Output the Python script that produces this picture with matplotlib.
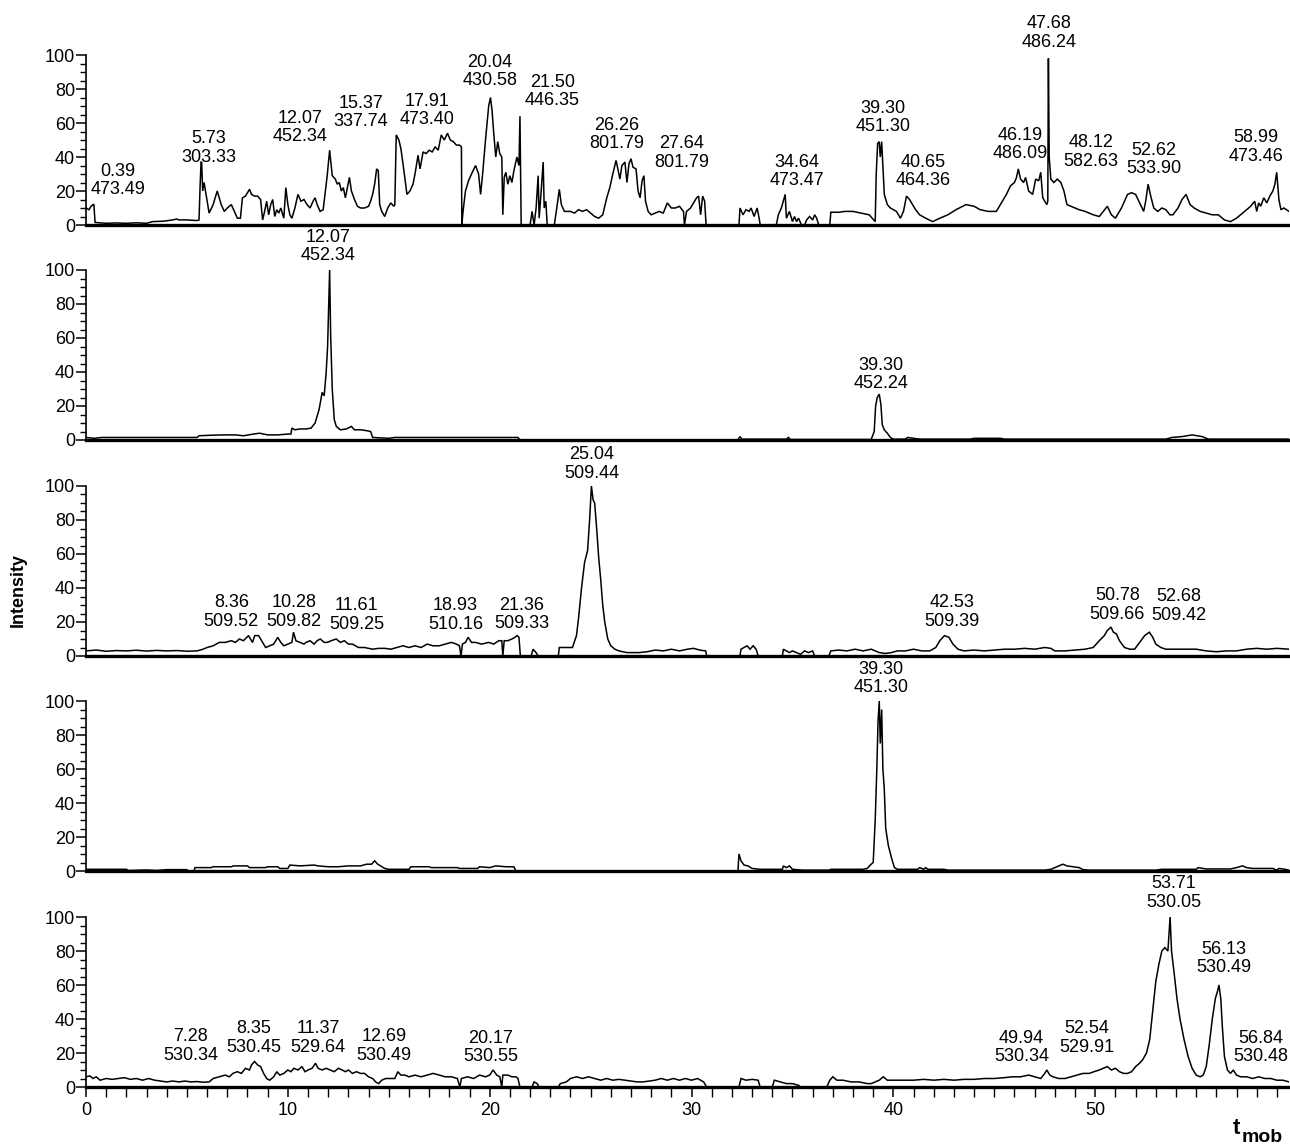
"""Stacked mobilograms: total ion trace plus four extracted-ion traces."""

import matplotlib
matplotlib.use("Agg")
import matplotlib.pyplot as plt
from matplotlib.ticker import MultipleLocator

plt.rcParams["font.family"] = ["Liberation Sans", "DejaVu Sans"]

# ---- panel 1: total trace -------------------------------------------------
t1 = [0.0, 0.15, 0.25, 0.35, 0.39, 0.45, 1.0, 1.5, 2.0, 2.5, 3.0, 3.3, 3.8, 4.2, 4.5, 4.6, 5.0, 5.5,
      5.6, 5.65, 5.7, 5.73, 5.78, 5.85, 6.0, 6.1, 6.3, 6.5, 6.7, 6.85, 7.0, 7.2, 7.35, 7.5, 7.65,
      7.75, 7.9, 8.1, 8.2, 8.35, 8.5, 8.65, 8.75, 8.85, 8.95, 9.05, 9.15, 9.25, 9.35, 9.45, 9.55,
      9.65, 9.8, 9.9, 10.0, 10.1, 10.2, 10.35, 10.5, 10.65, 10.8, 10.95, 11.1, 11.25, 11.35, 11.45,
      11.6, 11.75, 11.85, 11.95, 12.07, 12.15, 12.2, 12.35, 12.45, 12.55, 12.65, 12.75, 12.85,
      12.95, 13.05, 13.15, 13.3, 13.45, 13.6, 13.8, 14.0, 14.1, 14.2, 14.3, 14.4, 14.48, 14.55,
      14.65, 14.8, 14.95, 15.1, 15.25, 15.3, 15.37, 15.5, 15.6, 15.75, 15.9, 16.05, 16.2, 16.3,
      16.45, 16.55, 16.7, 16.85, 17.0, 17.15, 17.3, 17.45, 17.6, 17.75, 17.91, 18.05, 18.2, 18.35,
      18.5, 18.6, 18.62, 18.68, 18.8, 18.95, 19.1, 19.3, 19.45, 19.55, 19.65, 19.8, 19.95, 20.04,
      20.12, 20.2, 20.3, 20.4, 20.5, 20.6, 20.65, 20.72, 20.8, 20.9, 21.0, 21.1, 21.2, 21.35,
      21.45, 21.5, 21.56, 22.0, 22.1, 22.2, 22.3, 22.4, 22.45, 22.55, 22.65, 22.7, 22.78, 22.85,
      23.2, 23.3, 23.45, 23.55, 23.7, 24.0, 24.2, 24.4, 24.6, 24.8, 25.0, 25.2, 25.4, 25.6, 25.8,
      25.95, 26.1, 26.26, 26.35, 26.45, 26.55, 26.7, 26.8, 26.9, 27.0, 27.1, 27.25, 27.35, 27.45,
      27.55, 27.64, 27.72, 27.85, 28.0, 28.2, 28.4, 28.6, 28.8, 29.0, 29.2, 29.4, 29.6, 29.65,
      29.75, 29.95, 30.1, 30.25, 30.35, 30.45, 30.55, 30.65, 30.72, 32.35, 32.4, 32.55, 32.7,
      32.85, 32.95, 33.1, 33.25, 33.35, 33.4, 34.2, 34.3, 34.45, 34.64, 34.7, 34.85, 35.0, 35.1,
      35.2, 35.3, 35.45, 35.6, 35.7, 35.85, 36.0, 36.1, 36.2, 36.3, 36.85, 36.9, 37.3, 37.6, 38.0,
      38.4, 38.8, 39.1, 39.15, 39.22, 39.3, 39.35, 39.42, 39.5, 39.55, 39.7, 39.85, 40.0, 40.15,
      40.35, 40.5, 40.65, 40.8, 40.95, 41.1, 41.3, 41.6, 41.95, 42.3, 42.7, 43.1, 43.6, 44.0,
      44.3, 44.7, 45.1, 45.4, 45.6, 45.8, 46.0, 46.1, 46.19, 46.3, 46.45, 46.55, 46.7, 46.9,
      47.05, 47.2, 47.3, 47.4, 47.5, 47.6, 47.65, 47.68, 47.72, 47.8, 47.95, 48.12, 48.3, 48.45,
      48.6, 48.8, 49.2, 49.5, 49.9, 50.2, 50.4, 50.6, 50.8, 51.0, 51.3, 51.6, 51.8, 52.0, 52.2,
      52.4, 52.5, 52.62, 52.75, 52.9, 53.1, 53.3, 53.5, 53.7, 53.85, 54.1, 54.3, 54.5, 54.7, 54.9,
      55.2, 55.5, 55.8, 56.1, 56.4, 56.7, 57.0, 57.3, 57.5, 57.7, 57.9, 58.0, 58.1, 58.2, 58.35,
      58.5, 58.65, 58.8, 58.9, 58.99, 59.1, 59.2, 59.35, 59.6]
i1 = [10, 9, 11, 12, 12, 1.5, 1, 1.2, 1, 1.3, 1, 2, 2.2, 2.8, 3.5, 3, 3, 2.6,
      3, 22, 37, 37, 20, 25, 14, 7, 12, 20, 12, 8, 10, 12, 8, 4, 4,
      16, 17, 21, 18, 17, 17, 15, 3, 8, 14, 6, 12, 15, 5, 9, 7,
      10, 4, 22, 12, 6, 4, 10, 18, 14, 15, 12, 10, 14, 16, 12,
      8, 9, 19, 29, 44, 35, 29, 27, 24, 25, 20, 22, 16,
      22, 28, 20, 15, 11, 10, 10, 11, 14, 18, 24, 33, 32, 12,
      8, 5, 10, 13, 11, 12, 53, 50, 45, 32, 18, 20, 24, 30,
      41, 33, 43, 42, 44, 43, 46, 44, 53, 50, 54, 50, 49, 47,
      47, 46, 0, 8, 20, 26, 30, 35, 30, 18, 30, 51, 70, 75,
      67, 54, 40, 49, 42, 40, 6, 28, 31, 24, 29, 25, 32, 40,
      35, 64, 0, 0, 8, 0, 10, 29, 4, 20, 37, 10, 14, 0,
      0, 8, 21, 12, 8, 8, 7, 9, 8, 9, 7, 5, 4, 6, 16,
      22, 30, 38, 33, 27, 35, 37, 25, 36, 39, 34, 33, 20, 16,
      26, 29, 14, 8, 6, 7, 8, 7, 13, 10, 10, 11, 8, 0,
      8, 10, 13, 16, 17, 6, 17, 14, 0, 0, 10, 6, 9,
      8, 10, 5, 10, 4, 0, 0, 6, 10, 18, 4, 8, 2, 5,
      2, 4, 0, 0, 3, 5, 3, 6, 4, 0, 0, 7.5, 7.5, 8, 8,
      7, 6, 2, 30, 48, 49, 40, 49, 30, 18, 12, 10, 9, 8,
      4, 8, 17, 15, 12, 9, 6, 4, 2, 4, 6, 9, 12, 11,
      9, 8, 8, 14, 18, 23, 25, 28, 33, 27, 25, 28, 20, 18,
      27, 26, 31, 16, 14, 12, 14, 98, 40, 27, 25, 27, 25, 20,
      12, 11, 9, 8, 6, 5, 8, 11, 6, 4, 10, 18, 19, 18, 13,
      8, 14, 24, 17, 10, 8, 10, 9, 6, 6, 10, 15, 18, 12, 10,
      8, 7, 6, 6, 3, 2, 4, 7, 9, 11, 14, 8, 13, 11, 16,
      13, 17, 20, 24, 31, 15, 9, 10, 8]
peaks1_t = [0.39, 5.73, 12.07, 15.37, 17.91, 20.04, 21.50, 26.26, 27.64, 34.64, 39.30, 40.65,
            46.19, 47.68, 48.12, 52.62, 58.99]
peaks1_mz = [473.49, 303.33, 452.34, 337.74, 473.40, 430.58, 446.35, 801.79, 801.79, 473.47,
             451.30, 464.36, 486.09, 486.24, 582.63, 533.90, 473.46]

# ---- panel 2: m/z 452 -----------------------------------------------------
t2 = [0.0, 0.4, 0.8, 1.5, 3.0, 4.5, 5.5, 5.6, 6.2, 6.8, 7.4, 7.8, 8.3, 8.6, 9.0, 9.5, 10.0,
      10.15, 10.2, 10.35, 10.6, 10.9, 11.15, 11.35, 11.55, 11.7, 11.8, 11.9, 11.97, 12.07, 12.12,
      12.2, 12.3, 12.4, 12.6, 12.9, 13.15, 13.3, 13.6, 13.9, 14.1, 14.2, 15.0, 15.3, 17.0, 18.5,
      19.5, 20.5, 21.4, 21.5, 32.3, 32.4, 32.5, 34.7, 34.8, 34.9, 38.9, 39.05, 39.12, 39.2, 39.3,
      39.38, 39.45, 39.55, 39.7, 39.85, 40.0, 40.6, 40.7, 41.0, 41.3, 43.8, 44.0, 45.3, 45.5,
      53.5, 53.8, 54.3, 54.8, 55.3, 55.6, 59.6]
i2 = [1.5, 1, 1.5, 1.5, 1.5, 1.5, 1.5, 2.5, 2.8, 3, 3, 2.5, 3.5, 4, 3, 3, 3.5,
      3.5, 7, 6, 6.5, 6.5, 7, 10, 18, 28, 26, 40, 55, 100, 62,
      30, 12, 8, 6, 6.5, 8, 6, 6, 5.5, 5, 1.5, 1, 1.5, 1.5, 1.5,
      1.5, 1.5, 1.5, 0, 0, 2, 0.5, 0.5, 1.5, 0.3, 0.3, 5, 20, 25, 27,
      21, 9, 6, 4, 1.5, 0.5, 0.5, 1.5, 1, 0.5, 0.5, 1, 1, 0.5,
      0.5, 1.5, 2, 3, 2, 0.5, 0.5]
peaks2_t = [12.07, 39.30]
peaks2_mz = [452.34, 452.24]

# ---- panel 3: m/z 509 -----------------------------------------------------
t3 = [0.0, 0.5, 1.0, 1.5, 2.0, 2.5, 3.0, 3.5, 4.0, 4.5, 5.0, 5.5, 5.8, 6.0, 6.3, 6.6, 6.9, 7.2,
      7.4, 7.6, 7.8, 8.05, 8.25, 8.36, 8.55, 8.7, 8.9, 9.1, 9.3, 9.5, 9.65, 9.8, 10.0, 10.2,
      10.28, 10.4, 10.6, 10.8, 10.9, 11.1, 11.3, 11.45, 11.61, 11.8, 11.95, 12.15, 12.4, 12.6,
      12.8, 13.0, 13.2, 13.5, 13.8, 14.2, 14.5, 14.8, 15.1, 15.4, 15.7, 16.0, 16.3, 16.6, 16.9,
      17.2, 17.5, 17.8, 18.1, 18.35, 18.5, 18.58, 18.65, 18.8, 18.93, 19.1, 19.3, 19.6, 19.95,
      20.2, 20.45, 20.6, 20.65, 20.72, 20.9, 21.1, 21.25, 21.36, 21.45, 21.52, 22.05, 22.15,
      22.3, 22.4, 23.4, 23.45, 23.8, 24.1, 24.3, 24.4, 24.55, 24.7, 24.85, 24.95, 25.04, 25.12,
      25.2, 25.3, 25.4, 25.5, 25.6, 25.7, 25.85, 26.0, 26.2, 26.4, 26.8, 27.4, 27.8, 28.2, 28.6,
      29.0, 29.4, 29.8, 30.1, 30.4, 30.7, 30.75, 32.4, 32.45, 32.6, 32.75, 32.9, 33.05, 33.2,
      33.3, 34.5, 34.55, 34.7, 34.85, 35.0, 35.2, 35.4, 35.6, 35.8, 36.0, 36.1, 36.8, 36.9, 37.3,
      37.7, 38.1, 38.5, 38.9, 39.3, 39.6, 39.9, 40.2, 40.6, 41.0, 41.4, 41.8, 42.1, 42.3, 42.53,
      42.75, 42.95, 43.2, 43.5, 44.0, 44.5, 45.0, 45.5, 46.0, 46.5, 47.0, 47.5, 47.8, 48.0, 48.5,
      49.0, 49.5, 49.9, 50.2, 50.45, 50.6, 50.78, 50.9, 51.05, 51.2, 51.45, 51.7, 51.95, 52.2,
      52.45, 52.68, 52.85, 53.0, 53.25, 53.5, 54.0, 54.5, 55.0, 55.5, 56.0, 56.5, 57.0, 57.5,
      58.0, 58.5, 59.0, 59.6]
i3 = [3, 3.5, 2.8, 3.2, 3, 3.4, 2.9, 3.3, 3, 3.2, 2.8, 3, 4, 5, 6, 8, 8, 9,
      8, 10, 9, 12, 8, 12, 12, 9, 5, 6, 7, 11, 8, 6, 7, 8,
      14, 9, 8, 7, 8, 9, 7, 9, 10, 8, 8, 9, 10, 8,
      9, 7, 7, 5, 5, 4, 4.5, 4.5, 4, 5, 6, 5, 6, 5, 7,
      6, 6, 7, 8, 7, 6, 0, 7, 8, 11, 8, 8, 7, 8,
      7, 9, 9, 0, 9, 9, 10, 11, 12, 11, 0, 0, 4,
      2, 0, 0, 5, 5, 5, 12, 22, 40, 55, 62, 80, 100, 92,
      90, 75, 58, 45, 30, 20, 10, 6, 4, 3, 2, 2, 2.5, 3.5, 3,
      4, 3, 4, 4.5, 3.5, 3, 0, 0, 4, 5, 6, 4, 6, 4,
      0, 0, 4, 3, 2, 3, 2, 1, 3, 2, 3, 0, 0, 3, 3.5,
      3, 4, 3, 4, 2, 1.5, 2, 3, 3, 4, 3, 3, 5, 9, 12,
      11, 7, 4, 3, 3.5, 3, 3.5, 4, 4, 4.5, 4, 5, 4.5, 3, 3,
      3.5, 4, 5, 9, 12, 15, 17, 14, 13, 9, 5, 4, 4, 8,
      12, 14, 11, 7, 5, 4, 4, 4, 4, 3, 2.5, 3, 3, 4,
      4.5, 4, 4.5, 4]
peaks3_t = [25.04, 8.36, 10.28, 11.61, 18.93, 21.36, 42.53, 50.78, 52.68]
peaks3_mz = [509.44, 509.52, 509.82, 509.25, 510.16, 509.33, 509.39, 509.66, 509.42]

# ---- panel 4: m/z 451 -----------------------------------------------------
t4 = [0.0, 1.0, 2.0, 2.1, 3.0, 3.5, 4.0, 5.0, 5.05, 5.35, 5.4, 6.2, 6.3, 7.2, 7.3, 8.0, 8.1,
      8.9, 9.0, 9.5, 9.6, 10.0, 10.1, 10.6, 11.3, 11.5, 12.0, 12.5, 13.0, 13.6, 13.9, 14.15,
      14.3, 14.45, 14.6, 14.8, 15.0, 16.0, 16.1, 17.0, 17.1, 18.4, 18.5, 19.4, 19.5, 20.0, 20.3,
      20.8, 21.2, 21.3, 32.3, 32.35, 32.45, 32.6, 32.8, 33.0, 33.4, 34.5, 34.55, 34.7, 34.85,
      35.0, 35.5, 36.8, 36.9, 38.5, 38.7, 38.9, 39.0, 39.1, 39.18, 39.24, 39.3, 39.35, 39.42,
      39.48, 39.55, 39.62, 39.75, 39.9, 40.05, 40.2, 41.2, 41.3, 41.5, 41.6, 41.7, 42.5, 42.7,
      47.5, 47.8, 48.0, 48.2, 48.4, 48.6, 48.9, 49.2, 49.4, 49.7, 53.0, 53.3, 55.0, 55.1, 55.5,
      56.7, 57.0, 57.3, 57.5, 57.8, 58.8, 59.0, 59.1, 59.4, 59.6]
i4 = [1, 1, 1, 0.3, 0.6, 0.3, 0.8, 0.8, 0, 0, 2, 2, 2.5, 2.5, 3, 3, 2,
      2, 2.5, 2.5, 1.5, 1.5, 3.5, 3, 3.5, 3, 2.5, 2.5, 3, 3, 4, 4,
      6, 4, 3, 1.5, 1, 1, 2.5, 2.5, 2, 2, 1.5, 1.5, 2.5, 2, 3,
      2.5, 2.5, 0, 0, 10, 6, 3.5, 3, 1.5, 1, 1, 3, 2, 3,
      1, 0.5, 0.5, 1, 1, 1.5, 4, 5, 30, 60, 88, 100, 75, 95,
      60, 48, 25, 15, 8, 2, 1, 1, 2, 1, 2, 1, 1, 0.5,
      0.5, 1, 2, 3, 4, 3, 2.5, 2, 0.8, 0.5, 0.5, 1, 1, 2, 1.2,
      1.2, 2, 3, 2, 1.5, 1.5, 0.5, 1.5, 1, 0.5]
peaks4_t = [39.30]
peaks4_mz = [451.30]

# ---- panel 5: m/z 530 -----------------------------------------------------
t5 = [0.0, 0.2, 0.35, 0.5, 0.7, 1.0, 1.3, 1.6, 1.9, 2.2, 2.5, 2.8, 3.1, 3.4, 3.7, 4.0, 4.3, 4.6,
      4.9, 5.2, 5.5, 5.8, 6.1, 6.3, 6.6, 6.9, 7.1, 7.28, 7.5, 7.7, 7.9, 8.1, 8.2, 8.35, 8.5,
      8.65, 8.8, 8.95, 9.1, 9.3, 9.45, 9.6, 9.8, 10.0, 10.15, 10.3, 10.5, 10.7, 10.85, 11.0,
      11.2, 11.37, 11.5, 11.7, 11.9, 12.1, 12.3, 12.5, 12.69, 12.85, 13.0, 13.2, 13.4, 13.6,
      13.8, 14.0, 14.2, 14.35, 14.5, 14.65, 14.85, 15.1, 15.3, 15.45, 15.6, 15.8, 16.0, 16.3,
      16.6, 16.9, 17.2, 17.5, 17.8, 18.1, 18.4, 18.52, 18.6, 18.9, 19.2, 19.5, 19.8, 20.0,
      20.17, 20.35, 20.5, 20.6, 20.65, 20.9, 21.1, 21.3, 21.4, 21.5, 22.1, 22.2, 22.35, 22.45,
      23.4, 23.5, 23.8, 24.0, 24.3, 24.6, 24.9, 25.2, 25.5, 25.8, 26.1, 26.4, 26.7, 27.0, 27.3,
      27.6, 27.9, 28.2, 28.5, 28.8, 29.1, 29.4, 29.7, 30.0, 30.3, 30.6, 30.75, 32.35, 32.45,
      32.7, 33.0, 33.3, 33.4, 34.0, 34.1, 34.4, 34.7, 35.0, 35.3, 35.4, 36.7, 36.85, 37.0, 37.2,
      37.5, 37.9, 38.3, 38.7, 38.9, 39.1, 39.3, 39.5, 39.7, 40.0, 40.5, 41.0, 41.5, 42.0, 42.5,
      43.0, 43.5, 44.0, 44.5, 45.0, 45.5, 45.9, 46.3, 46.7, 47.0, 47.3, 47.5, 47.6, 47.75, 47.9,
      48.2, 48.5, 48.8, 49.1, 49.4, 49.7, 49.94, 50.2, 50.4, 50.6, 50.8, 51.0, 51.2, 51.4, 51.6,
      51.8, 52.0, 52.2, 52.35, 52.54, 52.7, 52.85, 53.0, 53.15, 53.3, 53.45, 53.6, 53.71, 53.78,
      53.9, 54.05, 54.2, 54.4, 54.6, 54.8, 55.0, 55.2, 55.35, 55.5, 55.65, 55.8, 55.95, 56.05,
      56.13, 56.22, 56.3, 56.4, 56.55, 56.7, 56.84, 57.0, 57.2, 57.5, 57.8, 58.1, 58.4, 58.7,
      59.0, 59.3, 59.6]
i5 = [6, 6.5, 5, 6, 4, 5, 4.5, 5, 5.5, 4.5, 5, 4, 5, 4, 3.5, 3, 3.5, 3,
      3.5, 3, 3.2, 2.8, 3, 5, 6, 7, 6, 8, 9, 8, 11, 10, 13, 15, 13,
      12, 8, 5, 4, 6, 9, 7, 8, 10, 9, 11, 10, 12, 9, 10,
      11, 14, 11, 10, 11, 10, 9, 11, 10, 9, 10, 8, 9, 8,
      8, 6, 5, 3, 2, 4, 5, 5, 5, 9, 7, 7, 6, 7,
      6, 7, 8, 7, 6, 6, 5, 0, 5, 6, 5, 7, 6, 7,
      10, 7, 6, 0, 7, 7, 6, 6, 5, 0, 0, 3, 2, 0,
      0, 2, 3, 5, 6, 5, 6, 5, 4, 5, 4, 4.5, 4, 3.5, 3,
      3, 3.5, 4, 5, 4, 5, 4, 5, 4, 5, 3, 0, 0, 5,
      4, 4.5, 4, 0, 0, 4, 3, 2, 2, 1, 0, 0, 4, 6, 4,
      4, 3, 3, 2, 2, 3, 4, 6, 4, 4, 4, 4, 4.5, 4, 4.5,
      4, 4.5, 4.5, 5, 5, 5.5, 6, 6, 7, 6, 5, 8, 10, 7, 6,
      5, 5, 6, 7, 8, 8, 9, 10, 11, 12, 10, 11, 9, 8, 8,
      9, 12, 14, 16, 20, 28, 45, 62, 72, 80, 82, 80, 100, 80,
      68, 52, 40, 28, 18, 11, 7, 6, 7, 12, 25, 40, 52, 56,
      60, 52, 35, 18, 10, 8, 10, 7, 6, 6, 5, 6, 5, 5,
      4, 4, 3]
peaks5_t = [53.71, 56.13, 7.28, 8.35, 11.37, 12.69, 20.17, 49.94, 52.54, 56.84]
peaks5_mz = [530.05, 530.49, 530.34, 530.45, 529.64, 530.49, 530.55, 530.34, 529.91, 530.48]

# label anchors (x centre, y bottom) in data units, one per peak label
labels1_xy = [(1.6, 16), (6.1, 35), (10.6, 47), (13.6, 56), (16.9, 57), (20.0, 80), (23.1, 68),
              (26.3, 43), (29.5, 32), (35.2, 21), (39.5, 53), (41.5, 21), (46.3, 37),
              (47.7, 102.5), (49.8, 32.5), (52.9, 28), (57.95, 35.5)]
labels2_xy = [(12.0, 103.5), (39.4, 28)]
labels3_xy = [(25.05, 102.5), (7.2, 15.5), (10.3, 15.5), (13.4, 13.7), (18.3, 13.7),
              (21.6, 14), (42.9, 15.5), (51.1, 19.6), (54.15, 19)]
labels4_xy = [(39.4, 103)]
labels5_xy = [(53.9, 103.7), (56.35, 65), (5.2, 13.7), (8.3, 18.4), (11.5, 18.4),
              (14.75, 13.7), (20.05, 13), (46.35, 13), (49.6, 18.4), (58.2, 13)]

panels = [
    (t1, i1, peaks1_t, peaks1_mz, labels1_xy),
    (t2, i2, peaks2_t, peaks2_mz, labels2_xy),
    (t3, i3, peaks3_t, peaks3_mz, labels3_xy),
    (t4, i4, peaks4_t, peaks4_mz, labels4_xy),
    (t5, i5, peaks5_t, peaks5_mz, labels5_xy),
]

W, H = 1290, 1146
x_left, x_right = 86, 1289
zero_rows = [225, 440, 656, 871, 1087]   # pixel row of the zero line in each panel
panel_h = 170

fig = plt.figure(figsize=(W / 100, H / 100), dpi=100)

for k, (t, inten, pk_t, pk_mz, lab_xy) in enumerate(panels):
    ax = fig.add_axes([x_left / W, 1 - zero_rows[k] / H, (x_right - x_left) / W, panel_h / H])
    ax.plot(t, inten, color="black", linewidth=1.1, solid_joinstyle="miter")
    ax.set_xlim(0, 59.6)
    ax.set_ylim(0, 100)
    for side in ("top", "right"):
        ax.spines[side].set_visible(False)
    ax.spines["left"].set_linewidth(1.2)
    ax.spines["bottom"].set_linewidth(2.4)
    ax.patch.set_alpha(0)

    ax.yaxis.set_major_locator(MultipleLocator(20))
    ax.yaxis.set_minor_locator(MultipleLocator(5))
    ax.tick_params(axis="y", which="major", length=7, width=1.1, labelsize=13, pad=1)
    ax.tick_params(axis="y", which="minor", length=4, width=1.0)

    if k < len(panels) - 1:
        ax.tick_params(axis="x", which="both", bottom=False, labelbottom=False)
    else:
        ax.xaxis.set_major_locator(MultipleLocator(10))
        ax.xaxis.set_minor_locator(MultipleLocator(1))
        ax.tick_params(axis="x", which="major", length=7, width=1.1, labelsize=13, pad=4)
        ax.tick_params(axis="x", which="minor", length=7, width=1.0)

    for (tp, mz), (lx, ly) in zip(zip(pk_t, pk_mz), lab_xy):
        ax.text(lx, ly, f"{tp:.2f}\n{mz:.2f}", ha="center", va="bottom", fontsize=13,
                linespacing=1.1, clip_on=False)

fig.text(18 / W, 1 - 590 / H, "Intensity", rotation=90, ha="center", va="center",
         fontsize=13, fontweight="bold")
fig.text(1236 / W, 1 - 1129 / H, "t", ha="center", va="center", fontsize=16, fontweight="bold")
fig.text(1262 / W, 1 - 1137 / H, "mob", ha="center", va="center", fontsize=14, fontweight="bold")

fig.savefig("out.png", dpi=100)
